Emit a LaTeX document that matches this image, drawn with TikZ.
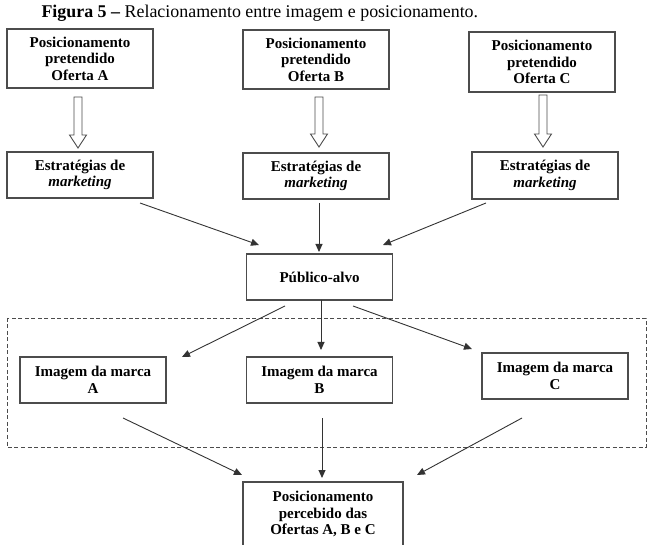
\documentclass[tikz,border=0pt]{standalone}
\usepackage{fontspec}
\setmainfont{Liberation Serif}
\usetikzlibrary{arrows.meta}
\begin{document}
\begin{tikzpicture}[x=1pt,y=-1pt,
  box/.style={draw=black!70,line width=1.1pt,align=center,inner sep=0pt,
    font=\fontsize{15}{16.5}\selectfont\bfseries},
  toprow/.style={box,minimum width=146pt,minimum height=59pt},
  midrow/.style={box,minimum width=146pt,minimum height=46pt},
  conn/.style={draw=black!80,line width=0.9pt,-{Triangle[length=8pt,width=7pt]}},
  hollow/.style={draw=black!70,line width=0.9pt,fill=white,line join=miter}]
\useasboundingbox (0,0) rectangle (651,545);
\newcommand\hollowarrow[3]{%
  \draw[hollow] ({#1-4},#2) -- ({#1+4},#2) -- ({#1+4},{#3-13}) -- ({#1+8.5},{#3-13})
    -- (#1,#3) -- ({#1-8.5},{#3-13}) -- ({#1-4},{#3-13}) -- cycle;}

\node[anchor=west,font=\fontsize{17.9}{20}\selectfont] (title) at (38,13)
  {\textbf{Figura 5 –} Relacionamento entre imagem e posicionamento.};

% top row
\node[toprow] (pa) at (80,58.5) {Posicionamento\\pretendido\\Oferta A};
\node[toprow] (pb) at (316,59.5) {Posicionamento\\pretendido\\Oferta B};
\node[toprow,minimum height=60pt] (pc) at (542,62) {Posicionamento\\pretendido\\Oferta C};

% hollow arrows
\hollowarrow{78}{97}{148}
\hollowarrow{319}{97}{147}
\hollowarrow{543}{95}{147}

% strategies
\node[midrow] (ea) at (80,175) {Estratégias de\\\textit{marketing}};
\node[midrow] (eb) at (316,176) {Estratégias de\\\textit{marketing}};
\node[midrow,minimum height=47pt] (ec) at (545,175.5) {Estratégias de\\\textit{marketing}};

% target audience
\node[midrow] (pub) at (319.5,277) {Público-alvo};

\coordinate (sa) at (140,203); \coordinate (ta) at (259,245);
\coordinate (sb) at (319,203); \coordinate (tb) at (319,252);
\coordinate (sc) at (486,203); \coordinate (tc) at (383,245);
\draw[conn] (sa) -- (ta);
\draw[conn] (sb) -- (tb);
\draw[conn] (sc) -- (tc);

% dashed group
\draw[draw=black!70,line width=0.8pt,dash pattern=on 4pt off 2.5pt] (7,318) rectangle (646,447);

% brand images
\node[midrow] (ia) at (93,380) {Imagem da marca\\A};
\node[midrow] (ib) at (319.5,380) {Imagem da marca\\B};
\node[midrow] (ic) at (555,376) {Imagem da marca\\C};

\coordinate (ua) at (285,306); \coordinate (va) at (182,357);
\coordinate (ub) at (321,300); \coordinate (vb) at (321,350);
\coordinate (uc) at (353,306); \coordinate (vc) at (472,349);
\draw[conn] (ua) -- (va);
\draw[conn] (ub) -- (vb);
\draw[conn] (uc) -- (vc);

% final
\node[box,minimum width=160pt,minimum height=64pt] (fin) at (323,514)
  {Posicionamento\\percebido das\\Ofertas A, B e C};

\coordinate (wa) at (123,418); \coordinate (xa) at (242,475);
\coordinate (wb) at (322,418); \coordinate (xb) at (322,478);
\coordinate (wc) at (522,418); \coordinate (xc) at (417,475);
\draw[conn] (wa) -- (xa);
\draw[conn] (wb) -- (xb);
\draw[conn] (wc) -- (xc);
\end{tikzpicture}
\end{document}
